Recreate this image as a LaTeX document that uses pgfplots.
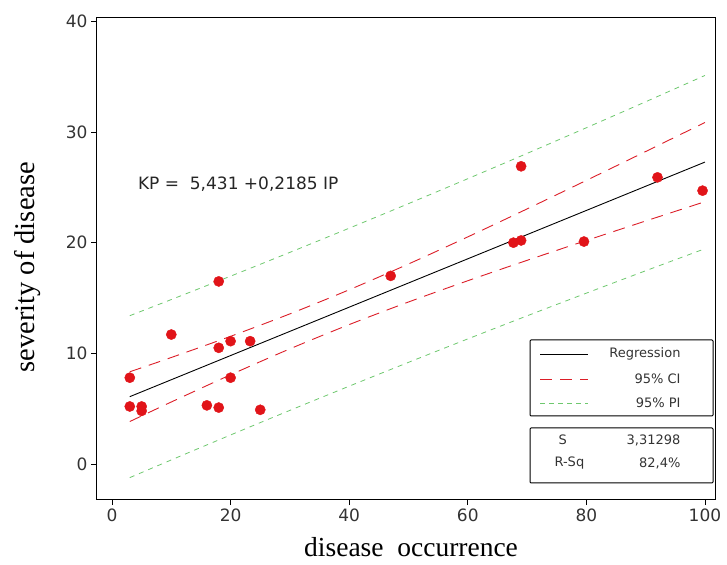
\documentclass[border=0pt]{standalone}
\usepackage{pgfplots}
\pgfplotsset{compat=1.18}
\usepackage{fontspec}
\setmainfont{DejaVu Sans}
\newfontfamily\seriff{Liberation Serif}
\definecolor{ptred}{RGB}{225,20,25}
\definecolor{cired}{RGB}{220,30,40}
\definecolor{pigreen}{RGB}{110,200,110}
\begin{document}
\begin{tikzpicture}
\useasboundingbox (-96pt,-64pt) rectangle (631pt,500pt);
\begin{axis}[
  at={(0pt,0pt)}, anchor=south west,
  width=619pt, height=482pt, scale only axis,
  xmin=-2.7, xmax=101.7, ymin=-3.25, ymax=40.3,
  xtick={0,20,...,100}, ytick={0,10,...,40},
  tick align=outside, tick pos=left,
  major tick length=5pt,
  axis line style={line width=1pt},
  every tick/.style={line width=0.8pt, black},
  tick label style={font=\fontsize{17}{17}\selectfont, text=black!80},
  /pgf/number format/assume math mode=true,
  xlabel={disease\ \ occurrence}, ylabel={severity of disease},
  xlabel style={font=\seriff\fontsize{27.5}{27.5}\selectfont, at={(axis description cs:0.509,-0.098)}, anchor=center},
  ylabel style={font=\seriff\fontsize{28.5}{28.5}\selectfont, at={(axis description cs:-0.11,0.483)}, anchor=center},
  clip=true,
]
% 95% PI
\addplot[pigreen, line width=0.8pt, dash pattern=on 5pt off 5pt, smooth] coordinates {
(3,13.402)(10,14.861)(20,16.976)(30,19.124)(40,21.308)(50,23.526)(60,25.778)(70,28.064)(80,30.383)(90,32.731)(100,35.108)};
\addplot[pigreen, line width=0.8pt, dash pattern=on 5pt off 5pt, smooth] coordinates {
(3,-1.228)(10,0.371)(20,2.626)(30,4.848)(40,7.034)(50,9.186)(60,11.304)(70,13.388)(80,15.439)(90,17.461)(100,19.454)};
% 95% CI
\addplot[cired, line width=0.9pt, dash pattern=on 12pt off 8pt, smooth] coordinates {
(3,8.335)(10,9.626)(20,11.539)(30,13.566)(40,15.744)(50,18.073)(60,20.522)(70,23.049)(80,25.626)(90,28.233)(100,30.860)};
\addplot[cired, line width=0.9pt, dash pattern=on 12pt off 8pt, smooth] coordinates {
(3,3.839)(10,5.606)(20,8.063)(30,10.406)(40,12.598)(50,14.639)(60,16.560)(70,18.403)(80,20.196)(90,21.959)(100,23.702)};
% Regression
\addplot[black, line width=0.9pt] coordinates {(3,6.087)(100,27.281)};
% data
\addplot[only marks, mark=*, mark size=5.1pt, mark options={fill=ptred, draw=ptred}] coordinates {
(3,7.8)(3,5.2)(5,5.2)(5,4.8)(10,11.7)(16,5.3)(18,16.5)(18,10.5)(18,5.1)(20,11.1)(20,7.8)(23.3,11.1)(25,4.9)(47,17.0)(67.7,20.0)(69,20.2)(69,26.9)(79.6,20.1)(92,25.9)(99.6,24.7)};
\node[anchor=west, font=\fontsize{17}{17}\selectfont, text=black!85] at (axis cs:3.8,25.3) {KP =\ \ 5,431 +0,2185 IP};
\end{axis}
% legend boxes
\begin{scope}[x=1pt,y=1pt]
\draw[line width=1pt, rounded corners=1pt] (434,84) rectangle (617,160);
\draw[line width=1pt, rounded corners=1pt] (434,17) rectangle (617,72);
\draw[black, line width=0.9pt] (444,146) -- (492,146);
\draw[cired, line width=0.9pt, dash pattern=on 12pt off 8pt] (444,121) -- (492,121);
\draw[pigreen, line width=0.8pt, dash pattern=on 5pt off 4pt] (444,97) -- (492,97);
\begin{scope}[every node/.style={font=\fontsize{13}{13}\selectfont, text=black!80}]
\node[anchor=east] at (588,146) {Regression};
\node[anchor=east] at (588,121) {95\% CI};
\node[anchor=east] at (588,97) {95\% PI};
\node[anchor=west] at (459,60) {S};
\node[anchor=east] at (588,60) {3,31298};
\node[anchor=west] at (455,37) {R-Sq};
\node[anchor=east] at (588,37) {82,4\%};
\end{scope}
\end{scope}
\end{tikzpicture}
\end{document}
